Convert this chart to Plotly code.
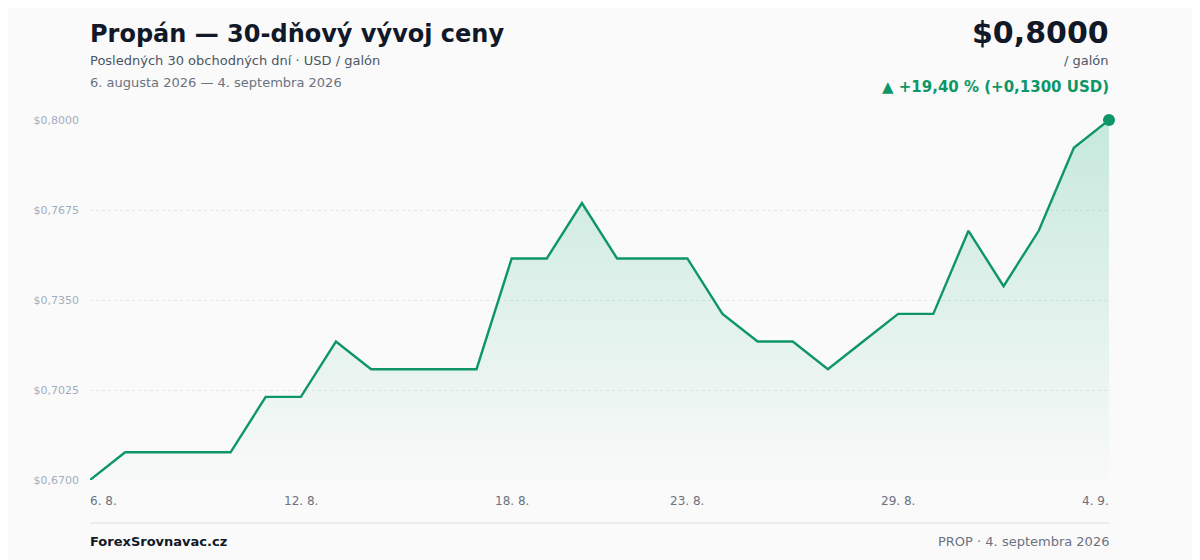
# PROPAN - 30-DAY PRICE CHART
# ----------------------------------------------------------------------------------------------------
import plotly.graph_objects as go

# DATA
# ----------------------------------------------------------------------------------------------------
dates = [
    '2026-08-06', '2026-08-07', '2026-08-08', '2026-08-09', '2026-08-10',
    '2026-08-11', '2026-08-12', '2026-08-13', '2026-08-14', '2026-08-15',
    '2026-08-16', '2026-08-17', '2026-08-18', '2026-08-19', '2026-08-20',
    '2026-08-21', '2026-08-22', '2026-08-23', '2026-08-24', '2026-08-25',
    '2026-08-26', '2026-08-27', '2026-08-28', '2026-08-29', '2026-08-30',
    '2026-08-31', '2026-09-01', '2026-09-02', '2026-09-03', '2026-09-04',
]
prices = [
    0.67, 0.68, 0.68, 0.68, 0.68,
    0.70, 0.70, 0.72, 0.71, 0.71,
    0.71, 0.71, 0.75, 0.75, 0.77,
    0.75, 0.75, 0.75, 0.73, 0.72,
    0.72, 0.71, 0.72, 0.73, 0.73,
    0.76, 0.74, 0.76, 0.79, 0.80,
]
y_ticks = [0.6700, 0.7025, 0.7350, 0.7675, 0.8000]
y_tick_labels = ['$0,6700', '$0,7025', '$0,7350', '$0,7675', '$0,8000']
x_ticks = ['2026-08-06', '2026-08-12', '2026-08-18', '2026-08-23', '2026-08-29', '2026-09-04']
x_tick_labels = ['6. 8.', '12. 8.', '18. 8.', '23. 8.', '29. 8.', '4. 9.']

# STYLE
# ----------------------------------------------------------------------------------------------------
GREEN = '#0e9667'
FONT = 'DejaVu Sans'
H_PLOT = 360  # plot area height in px
OFF = 8       # page body margin the browser adds


def py(pixel_y):
    # pixel row on the page -> paper coordinate
    return (480 - pixel_y) / H_PLOT


def side_text(text, left, pixel_y, size, color):
    # header / footer text pinned to the left or right edge of the plot area
    fig.add_annotation(
        x=0 if left else 1, y=py(pixel_y), xref='paper', yref='paper',
        xanchor='left' if left else 'right', yanchor='middle',
        xshift=-2 if left else 2,
        text=text, showarrow=False,
        font=dict(family=FONT, size=size, color=color),
    )


# FIGURE
# ----------------------------------------------------------------------------------------------------
fig = go.Figure()

fig.add_trace(go.Scatter(
    x=dates,
    y=prices,
    mode='lines',
    line=dict(color=GREEN, width=2.4),
    fill='tozeroy',
    fillgradient=dict(
        type='vertical',
        start=0.665,
        stop=0.80,
        colorscale=[[0, 'rgba(16,170,120,0.0)'], [1, 'rgba(16,170,120,0.22)']],
    ),
    cliponaxis=False,
    hoverinfo='skip',
))

fig.add_trace(go.Scatter(
    x=[dates[-1]],
    y=[prices[-1]],
    mode='markers',
    marker=dict(color=GREEN, size=12),
    cliponaxis=False,
    hoverinfo='skip',
))

# x tick labels (first left aligned, last right aligned)
for i, (d, lbl) in enumerate(zip(x_ticks, x_tick_labels)):
    anchor = 'left' if i == 0 else ('right' if i == len(x_ticks) - 1 else 'center')
    shift = -2 if i == 0 else (2 if i == len(x_ticks) - 1 else 0)
    fig.add_annotation(
        x=d, y=py(501), xref='x', yref='paper', xshift=shift,
        text=lbl, showarrow=False, xanchor=anchor, yanchor='middle',
        font=dict(family=FONT, size=12, color='#6b7280'),
    )

# header
side_text('<b>Propán — 30-dňový vývoj ceny</b>', True, 34, 24, '#111827')
side_text('Posledných 30 obchodných dní · USD / galón', True, 61, 13, '#4b5563')
side_text('6. augusta 2026 — 4. septembra 2026', True, 83, 13, '#6b7280')
side_text('<b>$0,8000</b>', False, 32, 30, '#111827')
side_text('/ galón', False, 61, 13, '#4b5563')
side_text('<b>▲ +19,40 % (+0,1300 USD)</b>', False, 87, 15, GREEN)

# footer
fig.add_shape(
    type='line', xref='paper', yref='paper', x0=0, x1=1, y0=py(523), y1=py(523),
    line=dict(color='#e5e7eb', width=1.5),
)
side_text('<b>ForexSrovnavac.cz</b>', True, 541, 13, '#111827')
side_text('PROP · 4. septembra 2026', False, 541, 13, '#6b7280')

fig.update_layout(
    width=1200,
    height=560,
    margin=dict(l=90 - OFF, r=91 + OFF, t=120 - OFF, b=80 + OFF),
    paper_bgcolor='#fafafa',
    plot_bgcolor='#fafafa',
    showlegend=False,
    font=dict(family=FONT),
)
fig.update_xaxes(
    type='date',
    range=[dates[0], dates[-1]],
    showticklabels=False,
    showgrid=False,
    zeroline=False,
    showline=False,
)
fig.update_yaxes(
    range=[0.67, 0.80],
    tickvals=y_ticks,
    ticktext=y_tick_labels,
    tickfont=dict(family=FONT, size=11, color='#a0aec0'),
    ticklabelstandoff=10,
    showgrid=True,
    gridcolor='#e5e7eb',
    griddash='dot',
    gridwidth=1,
    zeroline=False,
    showline=False,
)

fig.write_html('out.html')
